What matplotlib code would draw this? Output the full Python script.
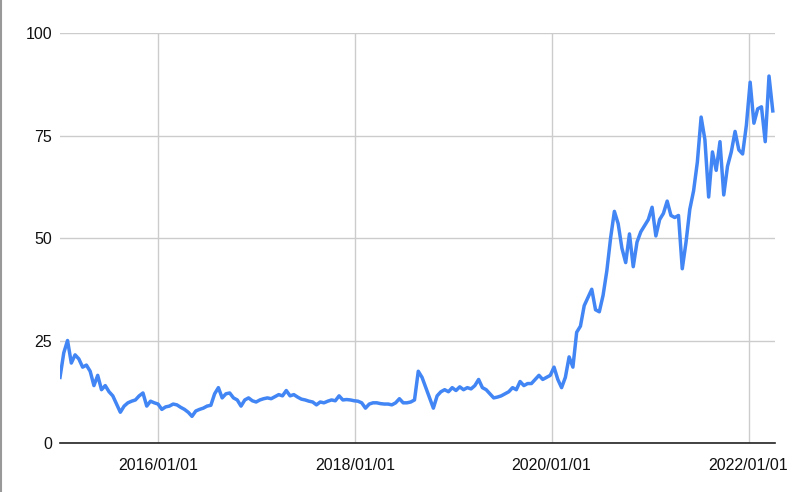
import pandas as pd
import matplotlib.pyplot as plt
import matplotlib.dates as mdates
from matplotlib.lines import Line2D

plt.rcParams['font.family'] = ['Liberation Sans', 'DejaVu Sans']

START_DATE = '2015-01-02'
STEP = '14D'

# biweekly values
values = [
    16, 22, 25, 19.5, 21.5, 20.5, 18.5, 19, 17.5, 14,
    16.5, 13, 14, 12.5, 11.5, 9.5, 7.5, 9, 9.8, 10.2,
    10.5, 11.5, 12.2, 9, 10.2, 9.8, 9.5, 8.2, 8.8, 9,
    9.5, 9.3, 8.7, 8.2, 7.5, 6.5, 7.8, 8.2, 8.5, 9,
    9.2, 12, 13.5, 11, 12, 12.2, 11, 10.5, 9, 10.5,
    11, 10.3, 10, 10.5, 10.8, 11, 10.8, 11.3, 11.8, 11.5,
    12.8, 11.5, 11.8, 11.2, 10.7, 10.5, 10.2, 10, 9.3, 10,
    9.8, 10.2, 10.5, 10.3, 11.5, 10.5, 10.6, 10.5, 10.3, 10.2,
    9.8, 8.5, 9.5, 9.8, 9.8, 9.6, 9.5, 9.5, 9.3, 9.8,
    10.8, 9.8, 9.8, 10, 10.5, 17.5, 16, 13.5, 11, 8.5,
    11.5, 12.5, 13, 12.5, 13.5, 12.8, 13.7, 13, 13.5, 13.2,
    14, 15.5, 13.5, 13, 12, 11, 11.2, 11.5, 12, 12.5,
    13.5, 13, 15, 14, 14.5, 14.5, 15.5, 16.5, 15.5, 16,
    16.5, 18.5, 15.5, 13.5, 16, 21, 18.5, 27, 28.5, 33.5,
    35.5, 37.5, 32.5, 32, 36, 42, 50, 56.5, 53.5, 47.5,
    44, 51, 43, 49, 51.5, 53, 54.5, 57.5, 50.5, 54.5,
    56, 59, 55.5, 55, 55.5, 42.5, 49, 57, 61.5, 68.5,
    79.5, 74, 60, 71, 66.5, 73.5, 60.5, 67.5, 71, 76,
    71.5, 70.5, 77.5, 88, 78, 81.5, 82, 73.5, 89.5, 81,
]
dates = pd.date_range(START_DATE, periods=len(values), freq=STEP)

y_ticks = [0, 25, 50, 75, 100]
x_ticks = pd.to_datetime(['2016-01-01', '2018-01-01', '2020-01-01', '2022-01-01'])

fig = plt.figure(figsize=(8, 4.92), dpi=100)
ax = fig.add_axes([0.075, 0.0996, 0.894, 0.8333])

ax.plot(dates, values, color='#4285F4', linewidth=2.5, solid_joinstyle='round')

ax.set_ylim(0, 100)
ax.set_xlim(pd.Timestamp('2015-01-02'), pd.Timestamp('2022-04-10'))
ax.set_yticks(y_ticks)
ax.set_xticks(x_ticks)
ax.xaxis.set_major_formatter(mdates.DateFormatter('%Y/%m/%d'))

ax.grid(True, color='#cccccc', linewidth=1)
ax.set_axisbelow(True)
for side in ['top', 'right', 'left']:
    ax.spines[side].set_visible(False)
ax.spines['bottom'].set_color('#222222')
ax.spines['bottom'].set_linewidth(1.2)
ax.tick_params(length=0, labelsize=11.5, colors='#111111')
ax.tick_params(axis='x', pad=11)
ax.tick_params(axis='y', pad=5.5)

# thin frame edge on the left of the image
fig.add_artist(Line2D([0.001, 0.001], [0, 1], color='#999999', linewidth=1.5))

fig.savefig('out.png', dpi=100)
